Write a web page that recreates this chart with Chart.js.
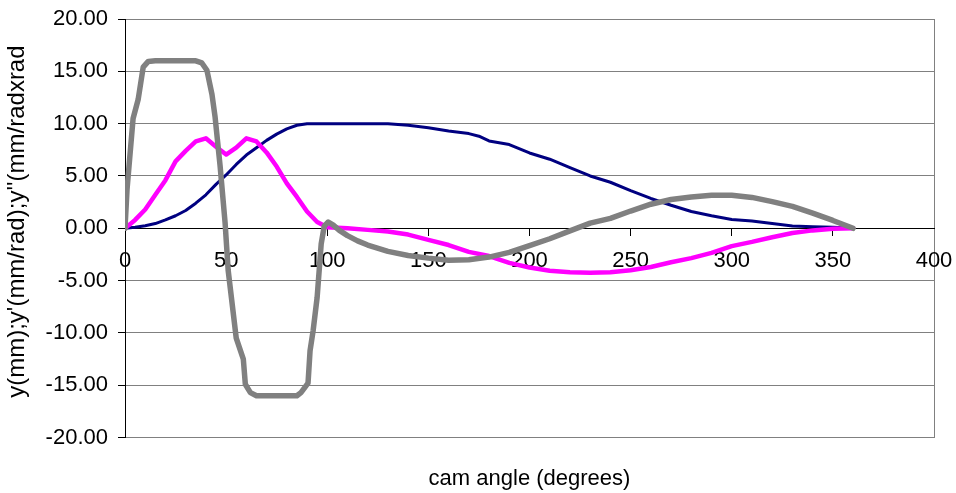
<!DOCTYPE html>
<html>
<head>
<meta charset="utf-8">
<script src="https://cdn.jsdelivr.net/npm/chart.js@4.4.1/dist/chart.umd.min.js"></script>
<style>
  html, body { margin: 0; padding: 0; background: #fff; }
  #wrap { width: 956px; height: 493px; }
</style>
</head>
<body>
<div id="wrap"><canvas id="chart"></canvas></div>
<script>
  // cam angle (degrees) and values
  const yAngles = [0,5,10,15,20,25,30,35,40,45,50,55,60,65,70,75,80,85,90,100,110,120,130,140,150,160,170,175,180,190,200,210,220,230,240,250,260,270,280,290,300,310,320,330,340,350,360];
  const yValues = [0,0.1,0.25,0.45,0.8,1.2,1.7,2.4,3.2,4.2,5.1,6.1,7.0,7.7,8.4,9.0,9.5,9.85,10,10,10,10,10,9.85,9.6,9.3,9.05,8.8,8.35,8.0,7.2,6.6,5.8,5.0,4.4,3.6,2.85,2.2,1.6,1.2,0.85,0.7,0.45,0.22,0.15,0.1,0];

  const dyAngles = [0,5,10,15,20,25,30,35,40,45,50,55,60,65,70,75,80,85,90,95,100,110,120,130,140,150,160,170,180,190,200,210,220,230,240,250,260,270,280,290,300,310,320,330,340,350,360];
  const dyValues = [0,0.8,1.8,3.2,4.6,6.4,7.4,8.3,8.6,7.8,7.05,7.7,8.6,8.3,7.25,5.9,4.3,3.0,1.6,0.6,0.1,0.0,-0.15,-0.3,-0.6,-1.1,-1.6,-2.25,-2.65,-3.3,-3.75,-4.05,-4.2,-4.25,-4.2,-4.0,-3.7,-3.25,-2.85,-2.35,-1.7,-1.3,-0.85,-0.45,-0.2,-0.05,0];

  const ddyAngles = [0,1,4,6.5,9,11.5,15,20,25,30,35,38,40.5,43,44.5,47,49.5,51,55,58.5,59.5,62,65,70,75,80,85,87,90.5,91.5,93,95,97,98.5,100.5,103,106,110,115,120,130,140,150,160,170,180,190,200,210,220,230,240,250,260,270,280,290,300,310,320,330,340,350,360];
  const ddyValues = [0,3.7,10.5,12.3,15.4,15.95,16,16,16,16,16,15.8,15.1,12.8,10.7,6.0,0.5,-4.0,-10.5,-12.5,-14.9,-15.7,-16,-16,-16,-16,-16,-15.7,-14.8,-11.7,-9.8,-6.6,-1.5,0.2,0.6,0.3,-0.2,-0.7,-1.2,-1.6,-2.2,-2.6,-2.85,-3.05,-3.0,-2.75,-2.3,-1.65,-1.0,-0.25,0.5,0.95,1.65,2.3,2.75,3.0,3.15,3.15,2.95,2.55,2.1,1.45,0.75,0];

  const xTicks = [0,50,100,150,200,250,300,350,400];
  const yTicks = [-20,-15,-10,-5,0,5,10,15,20];

  const FONT = "'Liberation Sans', Arial, sans-serif";
  const pts = (xs, ys) => xs.map((x, i) => ({x, y: ys[i]}));

  function serie(label, xs, ys, color, width, order) {
    return {
      label,
      data: pts(xs, ys),
      borderColor: color,
      backgroundColor: color,
      borderWidth: width,
      pointRadius: 0,
      tension: 0,
      borderJoinStyle: 'round',
      borderCapStyle: 'round',
      order
    };
  }

  // label overflow is left to the outer padding
  function noOverflow(s) {
    s.paddingTop = 0; s.paddingBottom = 0;
    s.paddingLeft = 0; s.paddingRight = 0;
  }

  new Chart(document.getElementById('chart'), {
    type: 'line',
    data: {
      datasets: [
        serie('y', yAngles, yValues, '#000080', 3, 3),
        serie("y'", dyAngles, dyValues, '#ff00ff', 4.5, 2),
        serie("y''", ddyAngles, ddyValues, '#808080', 5.5, 1)
      ]
    },
    options: {
      responsive: true,
      maintainAspectRatio: false,
      animation: false,
      layout: {padding: {top: 19, right: 22, bottom: 0, left: 0}},
      plugins: {
        legend: {display: false},
        tooltip: {enabled: false},
        title: {
          display: true,
          position: 'bottom',
          fullSize: false,
          text: 'cam angle (degrees)',
          color: '#000',
          font: {family: FONT, size: 22, weight: 'normal'},
          padding: {top: 28, bottom: 1}
        }
      },
      scales: {
        y: {
          type: 'linear',
          position: 'left',
          min: -20, max: 20,
          afterBuildTicks: s => { s.ticks = yTicks.map(v => ({value: v})); },
          afterFit: s => { s.width = 125; noOverflow(s); },
          ticks: {
            color: '#000',
            font: {family: FONT, size: 22},
            padding: 10,
            callback: v => v.toFixed(2)
          },
          grid: {color: '#808080', lineWidth: 1, tickColor: '#000', tickLength: 7},
          border: {color: '#000', width: 1},
          title: {
            display: true,
            text: "\u00a0\u00a0y(mm);y'(mm/rad);y''(mm/radxrad",
            color: '#000',
            font: {family: FONT, size: 24},
            padding: {top: 3, bottom: 0}
          }
        },
        yr: {
          type: 'linear',
          position: 'right',
          min: -20, max: 20,
          afterFit: s => { s.width = 0; noOverflow(s); },
          ticks: {display: false},
          grid: {drawOnChartArea: false, drawTicks: false},
          border: {color: '#808080', width: 1}
        },
        x: {
          type: 'linear',
          position: {y: 0},
          min: 0, max: 400,
          afterBuildTicks: s => { s.ticks = xTicks.map(v => ({value: v})); },
          afterFit: noOverflow,
          ticks: {
            color: '#000',
            font: {family: FONT, size: 22},
            padding: 12,
            maxRotation: 0,
            callback: v => String(v)
          },
          grid: {drawOnChartArea: false, color: '#000', tickColor: '#000', tickLength: 7},
          border: {color: '#000', width: 1}
        }
      }
    }
  });
</script>
</body>
</html>
